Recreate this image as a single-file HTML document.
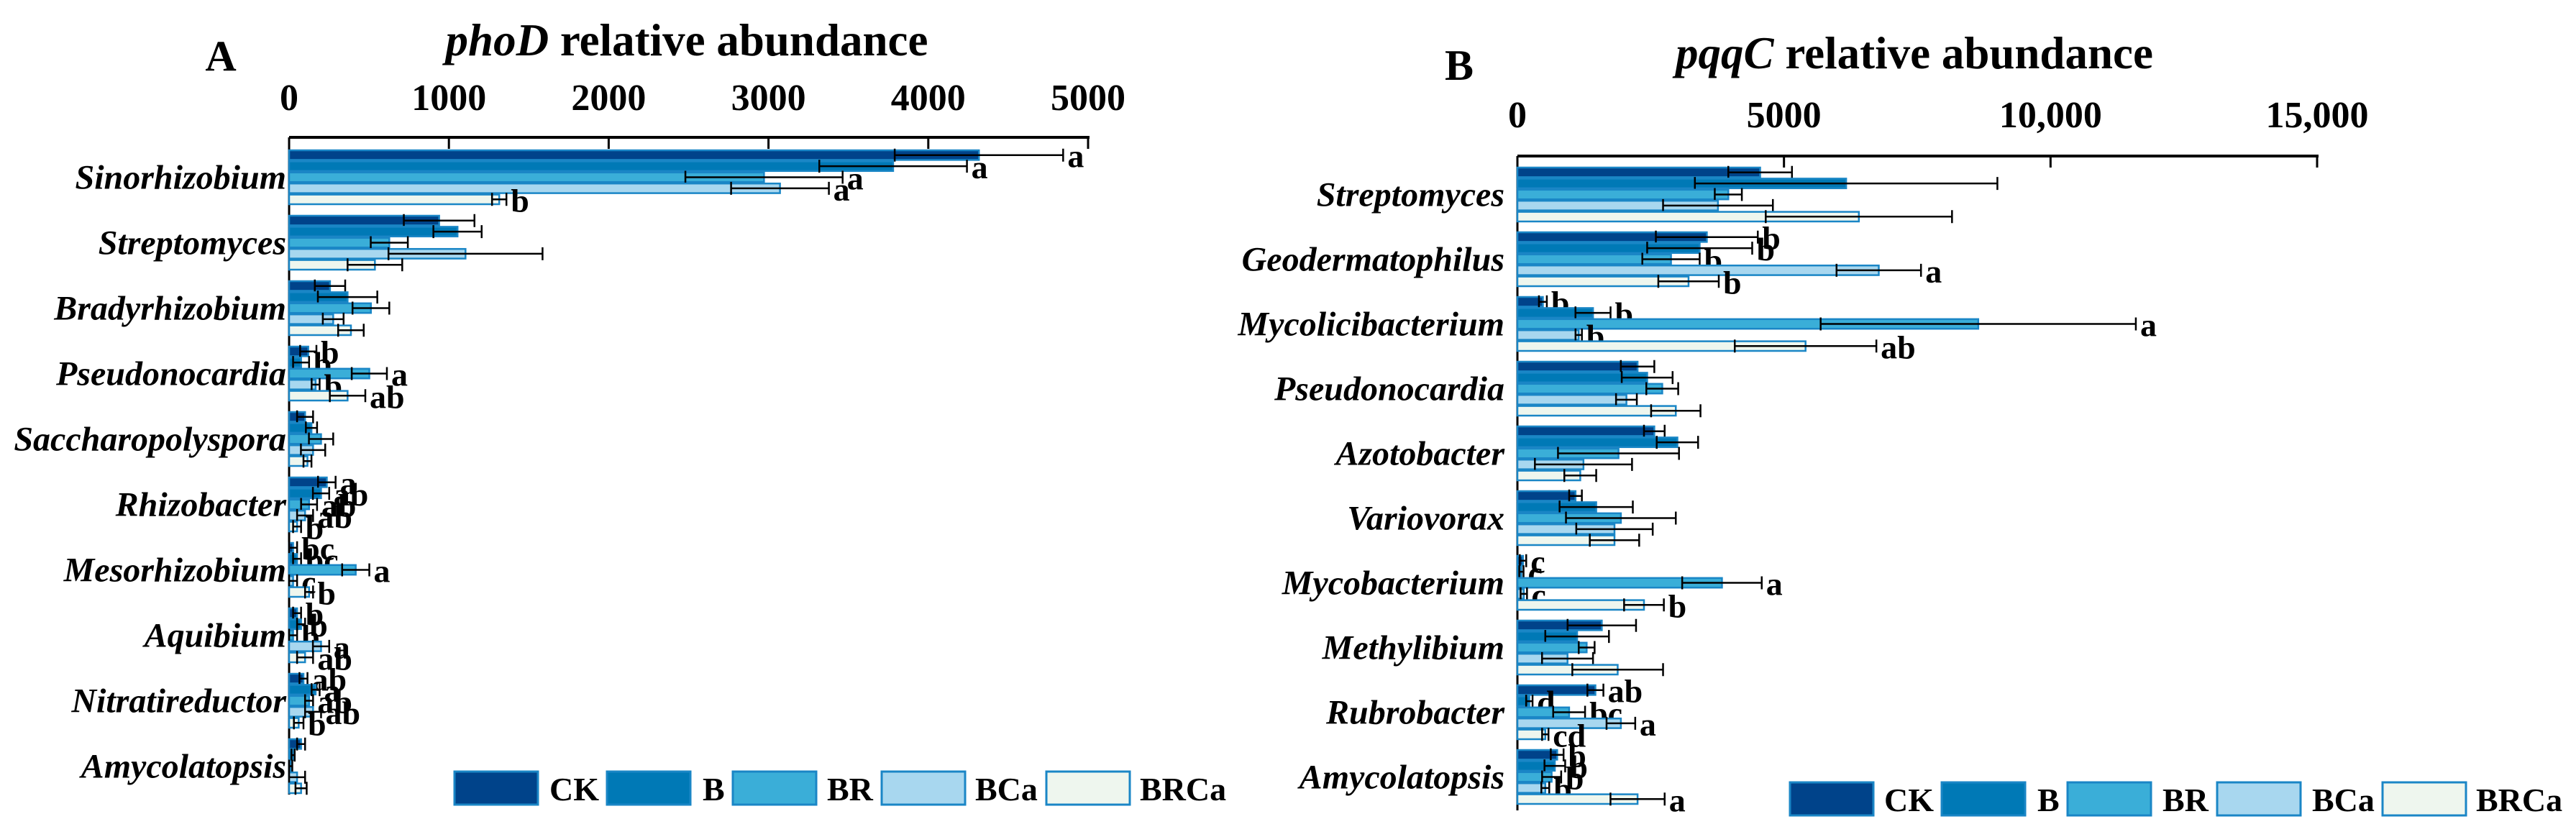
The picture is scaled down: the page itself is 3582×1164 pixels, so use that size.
<!DOCTYPE html>
<html><head><meta charset="utf-8"><style>
html,body{margin:0;padding:0;background:#fff;}
svg{display:block;font-family:"Liberation Serif",serif;font-weight:bold;}
</style></head><body>
<svg id="chart" width="3582" height="1164" viewBox="0 0 3582 1164" xmlns="http://www.w3.org/2000/svg"></svg>
<script>
const treatments=["CK","B","BR","BCa","BRCa"];
const colors=["#00438a","#0079b6","#3aaed8","#a8d7ef","#eef6ee"];
const catsA=["Sinorhizobium","Streptomyces","Bradyrhizobium","Pseudonocardia","Saccharopolyspora","Rhizobacter","Mesorhizobium","Aquibium","Nitratireductor","Amycolatopsis"];
const valsA=[[4317,3780,2972,3072,1315],[939,1054,627,1104,537],[256,366,512,276,387],[120,75,502,166,366],[100,140,200,150,115],[236,200,125,100,50],[25,50,417,25,125],[50,75,25,200,100],[90,166,125,150,60],[75,25,10,50,75]];
const errA=[[527,462,492,306,45],[221,151,116,482,171],[95,186,115,65,80],[51,50,110,25,111],[50,35,76,76,25],[55,51,50,50,25],[25,25,85,25,25],[25,25,25,51,50],[25,25,25,50,30],[25,10,10,50,35]];
const letA=[["a","a","a","a","b"],["","","","",""],["","","","",""],["b","b","a","b","ab"],["","","","",""],["a","ab","ab","ab","b"],["bc","bc","a","c","b"],["b","b","b","a","ab"],["ab","a","ab","ab","b"],["","","","",""]];
const ticksA=[0,1000,2000,3000,4000,5000];
const tickLabelsA=["0","1000","2000","3000","4000","5000"];
const catsB=["Streptomyces","Geodermatophilus","Mycolicibacterium","Pseudonocardia","Azotobacter","Variovorax","Mycobacterium","Methylibium","Rubrobacter","Amycolatopsis"];
const valsB=[[4553,6166,3956,3762,6405],[3553,3419,2881,6778,3210],[478,1418,8644,1150,5405],[2254,2434,2717,2045,2971],[2568,3001,1896,1239,1179],[1090,1478,1941,1821,1821],[105,75,3837,120,2374],[1583,1120,1299,940,1881],[1463,224,970,1941,523],[746,702,642,523,2254]];
const errB=[[597,2837,254,1030,1747],[956,985,538,792,567],[74,329,2956,60,1328],[314,477,299,195,463],[194,388,1135,911,299],[119,687,1030,717,463],[60,40,746,60,373],[642,597,149,478,851],[150,60,299,269,60],[120,194,179,74,508]];
const letB=[["","","","",""],["b","b","b","a","b"],["b","b","a","b","ab"],["","","","",""],["","","","",""],["","","","",""],["c","c","a","c","b"],["","","","",""],["ab","d","bc","a","cd"],["b","b","b","b","a"]];
const ticksB=[0,5000,10000,15000];
const tickLabelsB=["0","5000","10,000","15,000"];

const NS="http://www.w3.org/2000/svg";
const svg=document.getElementById("chart");
function mk(tag,attrs,parent){const e=document.createElementNS(NS,tag);for(const k in attrs)e.setAttribute(k,attrs[k]);(parent||svg).appendChild(e);return e;}

function drawPanel(o){
  const g=mk("g",{});
  
  
  const xs=v=>o.x0+(v-0)*(o.x1-o.x0)/o.max;
  const pl=mk("text",{x:o.letterX,y:o.letterY,"font-size":60,"text-anchor":"middle"},g);pl.textContent=o.id;
  
  
  const t=mk("text",{x:o.titleX,y:o.titleY,"font-size":63,"text-anchor":"middle"},g);
  
  
  const t1=mk("tspan",{"font-style":"italic"},t);t1.textContent=o.gene;
  const t2=mk("tspan",{},t);t2.textContent=" relative abundance";
  const ax=mk("line",{x1:o.x0,y1:o.axisY,x2:o.x1+2,y2:o.axisY,stroke:"#000","stroke-width":4},g);
  
  
  const ay=mk("line",{x1:o.x0,y1:o.axisY,x2:o.x0,y2:o.bottom,stroke:"#000","stroke-width":3},g);
  
  
  o.ticks.forEach((v,i)=>{
    const x=xs(v);
    const tk=mk("line",{x1:x,y1:o.axisY,x2:x,y2:o.axisY+16,stroke:"#000","stroke-width":3},g);
    
    
    const tl=mk("text",{x:x,y:o.tickY,"font-size":52,"text-anchor":"middle"},g);tl.textContent=o.tickLabels[i];
    
    
  });
  o.cats.forEach((c,gi)=>{
    const gy=o.top+gi*o.pitch;
    const cl=mk("text",{x:o.labelX,y:gy+2.5*o.bh+16,"font-size":48,"font-style":"italic","text-anchor":"end"},g);cl.textContent=c;
    
    
    for(let s=0;s<5;s++){
      const v=o.vals[gi][s],e=o.err[gi][s];
      const y=gy+s*o.bh;
      const r=mk("rect",{x:o.x0,y:y+1,width:Math.max(0,xs(v)-o.x0),height:o.bh-2,fill:colors[s],stroke:"#1a86c6","stroke-width":2.5},g);
      
      
      const cy=y+o.bh/2;
      const lo=xs(Math.max(0,v-e)),hi=xs(v+e);
      const el=mk("path",{d:`M${lo},${cy}H${hi}M${lo},${cy-9}V${cy+9}M${hi},${cy-9}V${cy+9}`,stroke:"#000","stroke-width":2.5,fill:"none"},g);
      
      
      const L=o.lets[gi][s];
      if(L){const lt=mk("text",{x:hi+6,y:cy+17,"font-size":46},g);lt.textContent=L;
        
        }
    }
  });
  o.legend.forEach((lg,i)=>{
    const b=mk("rect",{x:lg[0],y:o.legY,width:116,height:46,fill:colors[i],stroke:"#1a86c6","stroke-width":3},g);
    
    
    const lt=mk("text",{x:lg[1],y:o.legY+40,"font-size":46},g);lt.textContent=treatments[i];
    
    
  });
}
drawPanel({id:"A",gene:"phoD",x0:402,x1:1513,max:5000,axisY:191,bottom:1105,tickY:153,titleX:955,titleY:77,letterX:307,letterY:98,
  top:208,pitch:91,bh:15.4,labelX:398,cats:catsA,vals:valsA,err:errA,lets:letA,ticks:ticksA,tickLabels:tickLabelsA,
  legY:1073,legend:[[632,764],[844,977],[1019,1150],[1226,1356],[1455,1585]]});
drawPanel({id:"B",gene:"pqqC",x0:2110,x1:3222,max:15000,axisY:217,bottom:1127,tickY:177,titleX:2662,titleY:95,letterX:2029,letterY:111,
  top:232,pitch:90,bh:15.4,labelX:2092,cats:catsB,vals:valsB,err:errB,lets:letB,ticks:ticksB,tickLabels:tickLabelsB,
  legY:1088,legend:[[2489,2620],[2700,2833],[2875,3007],[3083,3215],[3313,3443]]});
</script>
</body></html>
